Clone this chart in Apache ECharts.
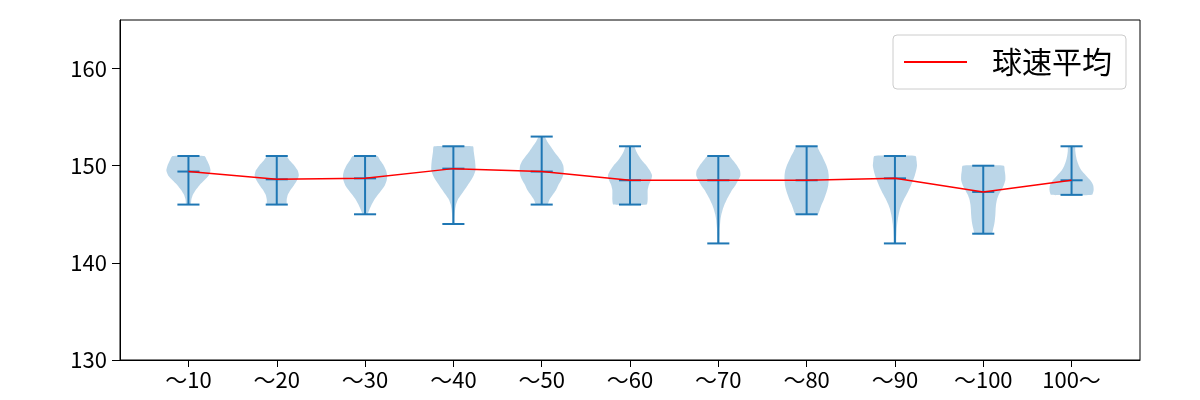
<!DOCTYPE html>
<html>
<head>
<meta charset="utf-8">
<script src="https://cdn.jsdelivr.net/npm/echarts@6/dist/echarts.min.js"></script>
<style>
html,body{margin:0;padding:0;background:#fff;}
#chart{width:1200px;height:400px;}
</style>
</head>
<body>
<div id="chart"></div>
<script>
// ---- data ----
const categories = ['～10','～20','～30','～40','～50','～60','～70','～80','～90','～100','100～'];
const speedMin  = [146, 146, 145, 144, 146, 146, 142, 145, 142, 143, 147];
const speedMax  = [151, 151, 151, 152, 153, 152, 151, 152, 151, 150, 152];
const speedMean = [149.4, 148.6, 148.7, 149.7, 149.4, 148.5, 148.5, 148.5, 148.7, 147.3, 148.5];
const yTicks = [130, 140, 150, 160];
// relative violin widths, sampled every 0.5 km/h from min to max
const density10  = [0.1,0.13,0.2,0.33,0.5,0.72,0.92,1.0,0.95,0.85,0.72];
const density20  = [0.43,0.45,0.5,0.62,0.78,0.92,1.0,0.95,0.8,0.6,0.42];
const density30  = [0.1,0.2,0.3,0.42,0.58,0.75,0.9,0.98,1.0,0.95,0.85,0.7,0.55];
const density40  = [0.05,0.05,0.06,0.08,0.12,0.2,0.35,0.5,0.65,0.8,0.92,1.0,1.0,0.98,0.95,0.92,0.88];
const density50  = [0.25,0.35,0.5,0.65,0.75,0.88,0.97,1.0,0.98,0.88,0.72,0.55,0.4,0.25,0.12];
const density60  = [0.75,0.8,0.8,0.8,0.85,0.95,1.0,0.9,0.75,0.55,0.4,0.28,0.18];
const density70  = [0.05,0.05,0.06,0.06,0.08,0.1,0.14,0.2,0.28,0.38,0.5,0.62,0.78,0.9,1.0,0.98,0.85,0.68,0.48];
const density80  = [0.5,0.6,0.68,0.78,0.86,0.93,0.98,1.0,1.0,0.97,0.9,0.8,0.7,0.58,0.45];
const density90  = [0.05,0.06,0.07,0.08,0.1,0.13,0.17,0.22,0.3,0.4,0.52,0.63,0.73,0.82,0.9,0.96,1.0,0.98,0.93];
const density100 = [0.38,0.45,0.5,0.53,0.55,0.56,0.58,0.62,0.7,0.82,0.93,1.0,1.0,0.97,0.93];
const density100p= [0.92,1.0,0.98,0.85,0.65,0.45,0.33,0.25,0.2,0.17,0.15];
const densityStep = 0.5;

const densities = [density10,density20,density30,density40,density50,density60,density70,density80,density90,density100,density100p];
const positions = categories.map((c,i)=>i+1);
const HALF_W = 0.25;   // half of violin width (widths=0.5)
const CAP_W = 0.125;   // half of cap line width
const BLUE = '#1f77b4';
const FONT = '"Noto Sans CJK JP", "Noto Sans", sans-serif';

const chart = echarts.init(document.getElementById('chart'), null, {renderer:'canvas'});

function renderViolin(params, api) {
  const i = params.dataIndex;
  const pos = positions[i];
  const d = densities[i];
  const lo = speedMin[i];
  const left = [], right = [];
  for (let j = 0; j < d.length; j++) {
    const y = lo + j * densityStep;
    left.push(api.coord([pos - HALF_W * d[j], y]));
    right.push(api.coord([pos + HALF_W * d[j], y]));
  }
  const pts = left.concat(right.reverse());
  const lineStyle = {stroke: BLUE, lineWidth: 2};
  const seg = (x1,y1,x2,y2) => {
    const a = api.coord([x1,y1]), b = api.coord([x2,y2]);
    return {type:'line', shape:{x1:a[0],y1:a[1],x2:b[0],y2:b[1]}, style:lineStyle};
  };
  return {
    type: 'group',
    children: [
      {type:'polygon', shape:{points:pts, smooth:0.2}, style:{fill:'rgba(31,119,180,0.3)', stroke:'none'}},
      seg(pos, lo, pos, speedMax[i]),
      seg(pos - CAP_W, lo, pos + CAP_W, lo),
      seg(pos - CAP_W, speedMax[i], pos + CAP_W, speedMax[i]),
      seg(pos - CAP_W, speedMean[i], pos + CAP_W, speedMean[i])
    ]
  };
}

const option = {
  animation: false,
  backgroundColor: '#fff',
  grid: {left:120, right:60, top:20, bottom:40, show:true, borderColor:'#000', borderWidth:1, backgroundColor:'transparent'},
  legend: {
    data: [{name:'球速平均', icon:'rect'}],
    left: 893, top: 35,
    itemWidth: 63, itemHeight: 2,
    padding: [10, 14, 10, 11],
    backgroundColor: 'rgba(255,255,255,0.8)',
    borderColor: '#cccccc', borderWidth: 1, borderRadius: 4,
    textStyle: {fontFamily: FONT, fontSize: 30, color:'#000', padding:[0,0,0,20], lineHeight:34}
  },
  xAxis: {
    type: 'value', min: 0.225, max: 11.775,
    splitLine: {show:false},
    axisLine: {show:true, lineStyle:{color:'#000', width:1}},
    axisTick: {show:true, length:7, customValues: positions, lineStyle:{color:'#000'}},
    axisLabel: {
      customValues: positions,
      formatter: v => categories[Math.round(v) - 1] || '',
      fontFamily: FONT, fontSize: 22, color:'#000', margin: 9
    }
  },
  yAxis: {
    type: 'value', min: 130, max: 165, interval: 10,
    splitLine: {show:false},
    axisLine: {show:true, lineStyle:{color:'#000', width:1}},
    axisTick: {show:true, length:8, customValues: yTicks, lineStyle:{color:'#000'}},
    axisLabel: {customValues: yTicks, fontFamily: FONT, fontSize: 22, color:'#000', margin: 13}
  },
  series: [
    {
      type: 'custom',
      name: 'violin',
      renderItem: renderViolin,
      data: positions.map((p,i)=>[p, speedMin[i], speedMax[i]]),
      encode: {x:0, y:[1,2]},
      silent: true,
      z: 2
    },
    {
      type: 'line',
      name: '球速平均',
      data: positions.map((p,i)=>[p, speedMean[i]]),
      showSymbol: false, symbol: 'none',
      lineStyle: {color:'#ff0000', width:1.5},
      itemStyle: {color:'#ff0000'},
      z: 3
    }
  ]
};
chart.setOption(option);
</script>
</body>
</html>
